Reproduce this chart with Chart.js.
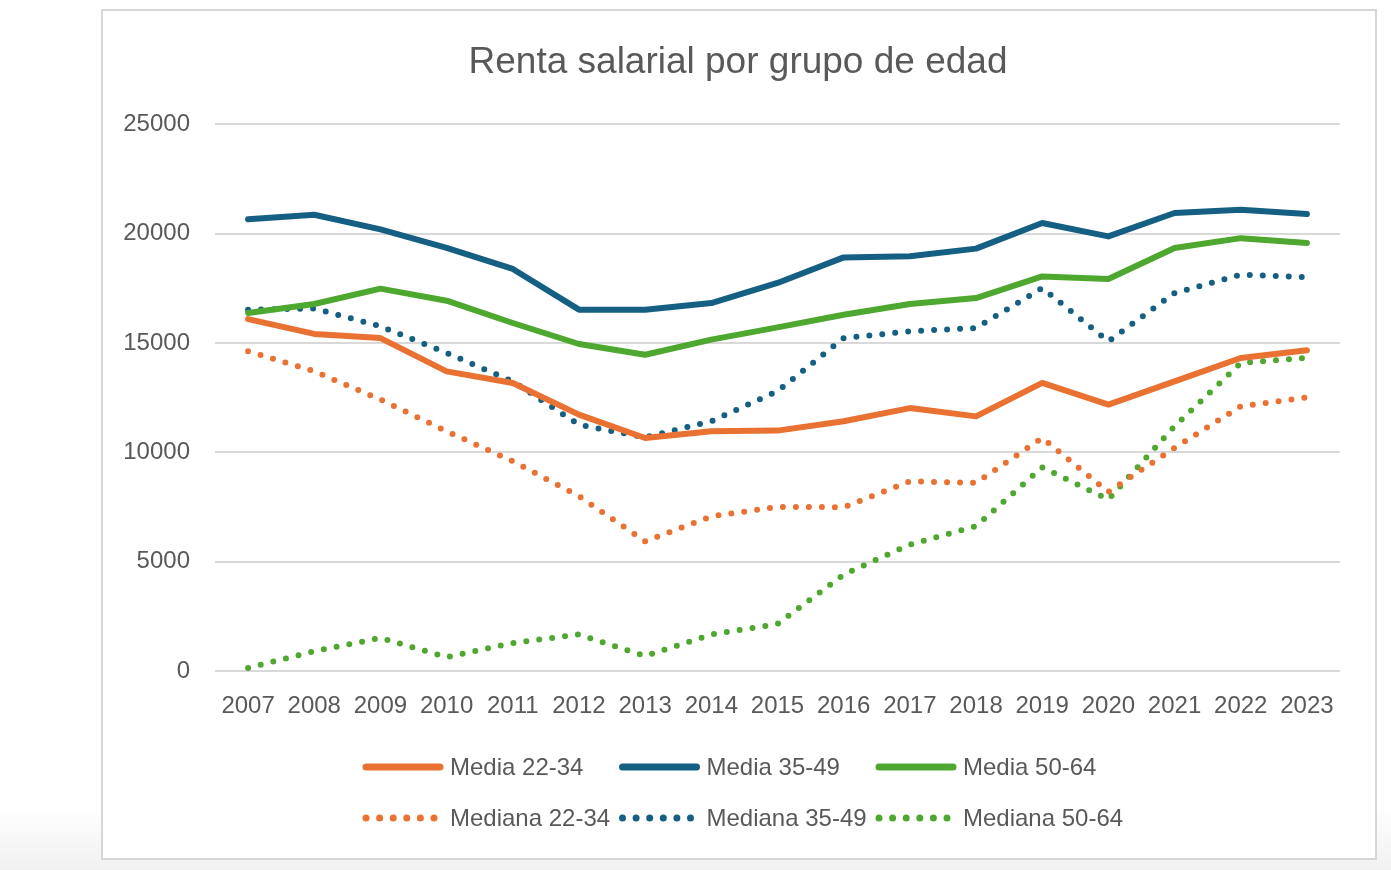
<!DOCTYPE html>
<html lang="es">
<head>
<meta charset="utf-8">
<title>Renta salarial por grupo de edad</title>
<script src="https://cdn.jsdelivr.net/npm/chart.js@4/dist/chart.umd.min.js"></script>
<style>
  html, body { margin: 0; padding: 0; }
  body {
    width: 1391px; height: 870px; overflow: hidden; position: relative;
    background: linear-gradient(to bottom, #ffffff 0px, #ffffff 805px, #f1f1f1 870px);
  }
  #frame {
    position: absolute; left: 101px; top: 9px; width: 1272px; height: 847px;
    border: 2px solid #d6d6d6; background: #ffffff;
  }
  #chart { position: absolute; left: 0; top: 0; }
</style>
</head>
<body>
<div id="frame"></div>
<canvas id="chart" width="1391" height="870"></canvas>
<script>
const years = ["2007", "2008", "2009", "2010", "2011", "2012", "2013", "2014", "2015",
  "2016", "2017", "2018", "2019", "2020", "2021", "2022", "2023"];

// media (solid lines)
const media2234 = [16100, 15420, 15230, 13710, 13180, 11730, 10660, 10970, 11000,
  11430, 12030, 11650, 13180, 12190, 13250, 14320, 14670];
const media3549 = [20660, 20870, 20200, 19350, 18390, 16530, 16530, 16830, 17750,
  18920, 18970, 19320, 20490, 19880, 20950, 21100, 20900];
const media5064 = [16380, 16790, 17490, 16940, 15920, 14960, 14470, 15160, 15720,
  16300, 16790, 17060, 18050, 17930, 19350, 19800, 19580];

// mediana (dotted lines)
const mediana2234 = [14630, 13710, 12420, 10970, 9600, 8000, 5940, 7080, 7510,
  7500, 8680, 8610, 10660, 8200, 10210, 12110, 12520];
const mediana3549 = [16530, 16580, 15770, 14550, 13250, 11270, 10690, 11430, 12800,
  15230, 15540, 15690, 17520, 15080, 17290, 18130, 18010];
const mediana5064 = [150, 910, 1520, 640, 1290, 1680, 690, 1680, 2160,
  4420, 5790, 6630, 9320, 7850, 11200, 14090, 14320];

const yTicks = [0, 5000, 10000, 15000, 20000, 25000];

const ORANGE = "#E97132";
const BLUE = "#156082";
const GREEN = "#4EA72E";
const TEXT = "#595959";
const FONT = "'Liberation Sans', Arial, sans-serif";

function solid(label, data, color) {
  return {
    label, data,
    borderColor: color, backgroundColor: color,
    borderWidth: 6, borderCapStyle: "round", borderJoinStyle: "round",
    pointRadius: 0, tension: 0,
  };
}

function dotted(label, data, color) {
  return {
    label, data,
    borderColor: color, backgroundColor: color,
    borderWidth: 6, borderCapStyle: "round", borderJoinStyle: "round",
    borderDash: [0, 13], pointRadius: 0, tension: 0,
  };
}

// excel-like legend laid out in a 3 column grid
const gridLegend = {
  id: "gridLegend",
  afterDraw(chart, args, opts) {
    const { ctx } = chart;
    ctx.save();
    ctx.font = `24px ${FONT}`;
    ctx.fillStyle = TEXT;
    ctx.textBaseline = "middle";
    ctx.textAlign = "left";
    chart.data.datasets.forEach((ds, i) => {
      const col = i % 3;
      const row = Math.floor(i / 3);
      const x = opts.left + col * opts.colWidth;
      const y = opts.top + row * opts.rowHeight;
      ctx.strokeStyle = ds.borderColor;
      ctx.lineWidth = 7;
      ctx.lineCap = "round";
      ctx.beginPath();
      if (ds.borderDash) {
        ctx.setLineDash([0, 13.6]);
        ctx.moveTo(x + 3, y);
        ctx.lineTo(x + 72, y);
      } else {
        ctx.setLineDash([]);
        ctx.moveTo(x + 3, y);
        ctx.lineTo(x + 77, y);
      }
      ctx.stroke();
      ctx.setLineDash([]);
      ctx.fillText(ds.label, x + 87, y + 1);
    });
    ctx.restore();
  },
};

new Chart(document.getElementById("chart"), {
  type: "line",
  data: {
    labels: years,
    datasets: [
      solid("Media 22-34", media2234, ORANGE),
      solid("Media 35-49", media3549, BLUE),
      solid("Media 50-64", media5064, GREEN),
      dotted("Mediana 22-34", mediana2234, ORANGE),
      dotted("Mediana 35-49", mediana3549, BLUE),
      dotted("Mediana 50-64", mediana5064, GREEN),
    ],
  },
  options: {
    responsive: false,
    animation: false,
    layout: { padding: { left: 110, right: 25, top: 0, bottom: 128 } },
    scales: {
      x: {
        offset: true,
        grid: { display: false, drawTicks: false },
        border: { display: false },
        ticks: { color: TEXT, font: { family: FONT, size: 24 }, padding: 21, maxRotation: 0, autoSkip: false },
      },
      y: {
        min: 0, max: 25000,
        afterBuildTicks: (scale) => { scale.ticks = yTicks.map((v) => ({ value: v })); },
        afterFit: (scale) => { scale.width = 105; },
        grid: { color: "#d9d9d9", lineWidth: 2, drawTicks: false },
        border: { display: false },
        ticks: {
          color: TEXT, font: { family: FONT, size: 24 }, padding: 25,
          callback: (v) => String(v),
        },
      },
      // empty right-hand spacer so the title centres on the frame
      spacer: {
        type: "linear", position: "right", min: 0, max: 25000,
        afterFit: (scale) => { scale.width = 26; },
        grid: { display: false, drawTicks: false },
        border: { display: false },
        ticks: { display: false },
      },
    },
    plugins: {
      legend: { display: false },
      tooltip: { enabled: false },
      title: {
        display: true,
        text: "Renta salarial por grupo de edad",
        color: TEXT,
        font: { family: FONT, size: 37, weight: "normal", lineHeight: 1.2 },
        padding: { top: 41, bottom: 39 },
      },
      gridLegend: { left: 363, top: 767, colWidth: 256.5, rowHeight: 51 },
    },
  },
  plugins: [gridLegend],
});
</script>
</body>
</html>
